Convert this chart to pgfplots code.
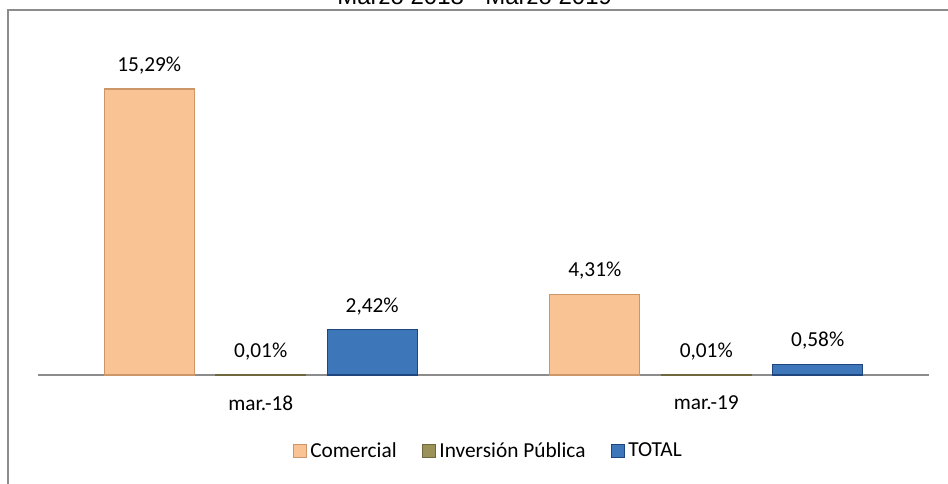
\documentclass[border=0pt]{standalone}
\usepackage{pgfplots}
\pgfplotsset{compat=1.18}
\usepackage{fontspec}
\setmainfont{Carlito}
\newfontfamily\arialfont{Liberation Sans}
\definecolor{peach}{RGB}{250,195,148}
\definecolor{peachedge}{RGB}{205,150,105}
\definecolor{olivec}{RGB}{155,146,90}
\definecolor{oliveedge}{RGB}{110,104,60}
\definecolor{bluec}{RGB}{62,118,186}
\definecolor{blueedge}{RGB}{30,70,125}
\definecolor{framegray}{RGB}{140,140,140}
\begin{document}
\begin{tikzpicture}
\useasboundingbox (0,0) rectangle (711pt,363pt);
% frame and title
\node[anchor=base, font=\arialfont\fontsize{18}{20}\selectfont] at (356pt,359.5pt) {Marzo 2018 - Marzo 2019};
\draw[framegray, line width=1pt] (6pt,0pt) -- (6pt,355.5pt) -- (712pt,355.5pt);
\begin{axis}[
  at={(28.5pt,81.75pt)}, anchor=south west,
  scale only axis,
  width=668.25pt, height=238.5pt,
  xmin=-0.5, xmax=1.5, ymin=0, ymax=17,
  axis y line=none,
  axis x line*=bottom,
  x axis line style={framegray, line width=1pt, -},
  xtick={0,1}, xticklabels={mar.-18, mar.-19},
  major tick length=0pt,
  xticklabel style={anchor=center, yshift=-21pt, font=\fontsize{16}{19}\selectfont},
  ybar, bar width=67.5pt,
  point meta=explicit symbolic,
  nodes near coords,
  every node near coord/.append style={anchor=center, yshift=17.5pt, font=\fontsize{16}{19}\selectfont, text=black},
  legend columns=3,
  legend style={draw=none, fill=none, at={(0.505,-0.239)}, anchor=center,
    font=\fontsize{16}{19}\selectfont,
    /tikz/every odd column/.append style={column sep=1.5pt},
    /tikz/every even column/.append style={column sep=18pt},
    nodes={inner sep=1pt}},
  legend image code/.code={\fill[#1] (0pt,-4.9pt) rectangle (9.75pt,4.9pt);},
  clip=false,
]
\addplot[fill=peach, draw=peachedge, line width=0.8pt, bar shift=-83.6pt] coordinates {(0,15.29)[15,29\%] (1,4.31)[4,31\%]};
\addplot[fill=olivec, draw=oliveedge, line width=0.8pt, bar shift=0pt] coordinates {(0,0.01)[0,01\%] (1,0.01)[0,01\%]};
\addplot[fill=bluec, draw=blueedge, line width=0.8pt, bar shift=83.6pt] coordinates {(0,2.42)[2,42\%] (1,0.58)[0,58\%]};
\legend{Comercial, Inversión Pública, TOTAL}
\end{axis}
\end{tikzpicture}
\end{document}
